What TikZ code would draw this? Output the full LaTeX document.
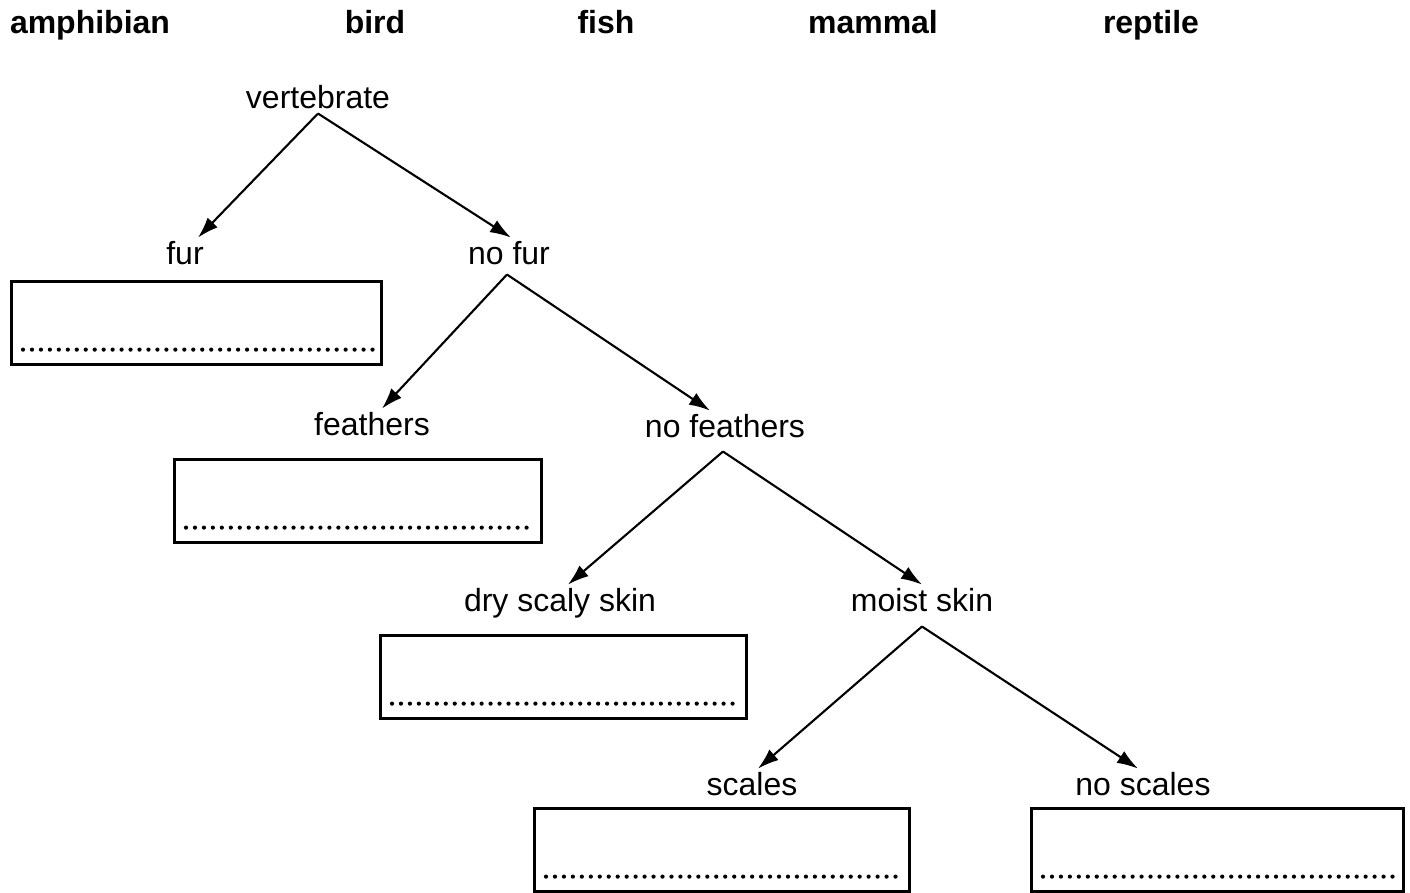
\documentclass[tikz,border=0pt]{standalone}
\usepackage{fontspec}
\setmainfont{Liberation Sans}
\usetikzlibrary{arrows.meta}
\tikzset{
    keytext/.style={inner sep=1pt, anchor=base, font=\fontsize{9.1}{11}\selectfont},
    grouptext/.style={keytext, font=\fontsize{9.1}{11}\selectfont\bfseries},
    answerbox/.style={rectangle, draw, line width=0.75pt, minimum height=0.83cm, anchor=north west, inner sep=0pt},
    branch/.style={line width=0.6pt, -{Latex[length=0.21cm, width=0.14cm]}},
    answerline/.style={line width=1.2pt, line cap=round, dash pattern=on 0pt off 2.55pt}
}
\begin{document}
\begin{tikzpicture}
    \useasboundingbox (0,0) rectangle (14.10,-8.93);
    % groups along the top
    \node[grouptext] at (0.90,-0.34) (amphibian) {amphibian};
    \node[grouptext] at (3.75,-0.34) (bird) {bird};
    \node[grouptext] at (6.06,-0.34) (fish) {fish};
    \node[grouptext] at (8.73,-0.34) (mammal) {mammal};
    \node[grouptext] at (11.51,-0.34) (reptile) {reptile};
    % key labels
    \node[keytext] at (3.18,-1.09) (vertebrate) {vertebrate};
    \node[keytext] at (1.85,-2.65) (fur) {fur};
    \node[keytext] at (5.09,-2.65) (nofur) {no fur};
    \node[keytext] at (3.72,-4.36) (feathers) {feathers};
    \node[keytext] at (7.25,-4.38) (nofeathers) {no feathers};
    \node[keytext] at (5.60,-6.12) (dryskin) {dry scaly skin};
    \node[keytext] at (9.22,-6.12) (moistskin) {moist skin};
    \node[keytext] at (7.52,-7.96) (scales) {scales};
    \node[keytext] at (11.43,-7.96) (noscales) {no scales};
    % branch points
    \coordinate (nofurfork) at ([xshift=-0.02cm, yshift=-0.05cm]nofur.south);
    \coordinate (nofeathersfork) at ([xshift=-0.02cm, yshift=-0.09cm]nofeathers.south);
    \coordinate (moistskinfork) at ([yshift=-0.10cm]moistskin.south);
    % answer boxes
    \node[answerbox, minimum width=3.70cm] at (0.10,-2.80) (furbox) {};
    \node[answerbox, minimum width=3.67cm] at (1.73,-4.58) (feathersbox) {};
    \node[answerbox, minimum width=3.66cm] at (3.79,-6.34) (dryskinbox) {};
    \node[answerbox, minimum width=3.75cm] at (5.33,-8.07) (scalesbox) {};
    \node[answerbox, minimum width=3.72cm] at (10.30,-8.07) (noscalesbox) {};
    \foreach \ans in {furbox,feathersbox,dryskinbox,scalesbox,noscalesbox}
        \draw[answerline] ([xshift=0.13cm, yshift=0.16cm]\ans.south west) -- ([xshift=-0.10cm, yshift=0.16cm]\ans.south east);
    % branches
    \draw[branch] (vertebrate.south) -- ([xshift=0.13cm]fur.north);
    \draw[branch] (vertebrate.south) -- ([xshift=0.02cm]nofur.north);
    \draw[branch] (nofurfork) -- ([xshift=0.10cm]feathers.north);
    \draw[branch] (nofurfork) -- ([xshift=-0.15cm]nofeathers.north);
    \draw[branch] (nofeathersfork) -- ([xshift=0.08cm]dryskin.north);
    \draw[branch] (nofeathersfork) -- (moistskin.north);
    \draw[branch] (moistskinfork) -- ([xshift=0.06cm]scales.north);
    \draw[branch] (moistskinfork) -- ([xshift=-0.05cm]noscales.north);
\end{tikzpicture}
\end{document}
